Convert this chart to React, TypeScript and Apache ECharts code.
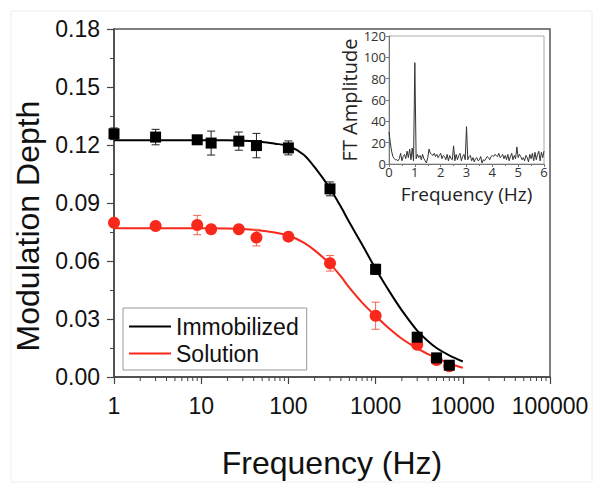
import React, { useEffect, useRef } from "react";
import * as echarts from "echarts";

// ---- main chart data ----
const pointFreq = [1, 3, 9, 13, 27, 43, 100, 300, 1000, 3000, 5000, 7000];
const immobilizedDepth = [0.1258, 0.1241, 0.1227, 0.121, 0.122, 0.1197, 0.1185, 0.0973, 0.0557, 0.0206, 0.0099, 0.0061];
const immobilizedErr = [0.003, 0.004, 0.0015, 0.0062, 0.0047, 0.0063, 0.0036, 0.0036, 0.0026, 0.0015, 0.0018, 0.001];
const solutionDepth = [0.0798, 0.0781, 0.0786, 0.0764, 0.0764, 0.0721, 0.0726, 0.0588, 0.0317, 0.0167, 0.0088, 0.0055];
const solutionErr = [0.002, 0.0015, 0.005, 0.002, 0.001, 0.0043, 0.001, 0.004, 0.007, 0.0015, 0.001, 0.001];

const fitFreq = [1, 10, 20, 30, 50, 70, 100, 150, 200, 300, 400, 500, 700, 1000, 1500, 2000, 3000, 4000, 5000, 7000, 10000];
const immobilizedFit = [0.1225, 0.1225, 0.1224, 0.1222, 0.1216, 0.1207, 0.1195, 0.115, 0.1085, 0.0975, 0.088, 0.08, 0.0685, 0.056, 0.043, 0.0345, 0.024, 0.0185, 0.015, 0.0112, 0.008];
const solutionFit = [0.0769, 0.0769, 0.0768, 0.0765, 0.0757, 0.0747, 0.0732, 0.0695, 0.0655, 0.0585, 0.052, 0.0462, 0.0385, 0.0316, 0.0243, 0.0198, 0.0148, 0.0118, 0.0097, 0.007, 0.0048];

const xTickValues = [1, 10, 100, 1000, 10000, 100000];
const yTickLabels = ["0.00", "0.03", "0.06", "0.09", "0.12", "0.15", "0.18"];

// ---- inset FT spectrum ----
const ftFreqStep = 0.05;
const ftAmplitude = [
  30, 20, 12, 7, 5, 4, 4, 3, 5, 10,
  3, 7, 9, 5, 12, 6, 14, 4, 15, 3,
  95, 5, 9, 6, 8, 4, 9, 5, 3, 1,
  6, 14, 10, 9, 8, 10, 7, 9, 6, 8,
  10, 5, 8, 7, 4, 9, 3, 8, 5, 4,
  17, 3, 9, 4, 8, 10, 3, 7, 9, 4,
  35, 4, 7, 8, 3, 6, 2, 5, 6, 3,
  4, 7, 1, 4, 3, 5, 7, 6, 4, 7,
  8, 7, 9, 8, 7, 10, 6, 7, 9, 5,
  8, 4, 9, 3, 7, 10, 4, 8, 5, 16,
  6, 9, 7, 4, 6, 3, 8, 6, 2, 9,
  5, 10, 3, 11, 4, 9, 12, 3, 11, 6,
  12,
];
const insetXTicks = [0, 1, 2, 3, 4, 5, 6];
const insetYTicks = [0, 20, 40, 60, 80, 100, 120];

const RED = "#f8281a";
const MAIN_FONT = "'Liberation Sans', Arial, sans-serif";
const INSET_FONT = "'Open Sans', 'Liberation Sans', sans-serif";

export default function App() {
  const ref = useRef<HTMLDivElement>(null);

  useEffect(() => {
    if (!ref.current) return;
    const chart = echarts.init(ref.current, null, { renderer: "svg" });

    const minorX: number[][] = [];
    for (let d = 0; d < xTickValues.length - 1; d++) {
      for (let k = 2; k <= 9; k++) minorX.push([xTickValues[d] * k, 0]);
    }

    const errItem = (color: string) => (params: any, api: any) => {
      const x = api.value(0);
      const y = api.value(1);
      const e = api.value(2);
      const top = api.coord([x, y + e]);
      const bot = api.coord([x, y - e]);
      const w = 4;
      const style = { stroke: color, lineWidth: 1 };
      return {
        type: "group",
        children: [
          { type: "line", shape: { x1: top[0], y1: top[1], x2: bot[0], y2: bot[1] }, style },
          { type: "line", shape: { x1: top[0] - w, y1: top[1], x2: top[0] + w, y2: top[1] }, style },
          { type: "line", shape: { x1: bot[0] - w, y1: bot[1], x2: bot[0] + w, y2: bot[1] }, style },
        ],
      };
    };

    const option: any = {
      animation: false,
      backgroundColor: "#ffffff",
      graphic: [
        {
          type: "rect",
          shape: { x: 11, y: 11, width: 581, height: 471 },
          style: { fill: "none", stroke: "#eeeeee", lineWidth: 1 },
          silent: true,
        },
      ],
      grid: [
        { left: 114, top: 29, right: 51, bottom: 103, show: true, borderColor: "#555", borderWidth: 1.5, containLabel: false },
        { left: 389, top: 36, width: 155, height: 128, show: true, backgroundColor: "#fff", borderColor: "#aaa", borderWidth: 1, containLabel: false },
      ],
      legend: {
        orient: "vertical",
        left: 123,
        top: 308,
        itemWidth: 42,
        itemHeight: 2,
        itemGap: 0,
        padding: [5, 8, 3, 6],
        borderColor: "#999",
        borderWidth: 1,
        backgroundColor: "#fff",
        data: [
          { name: "Immobilized", icon: "rect" },
          { name: "Solution", icon: "rect" },
        ],
        textStyle: { fontFamily: MAIN_FONT, fontSize: 23, color: "#111", lineHeight: 27 },
      },
      xAxis: [
        {
          type: "log",
          gridIndex: 0,
          min: 1,
          max: 100000,
          logBase: 10,
          name: "Frequency (Hz)",
          nameLocation: "middle",
          nameGap: 70,
          nameTextStyle: { fontFamily: MAIN_FONT, fontSize: 32, color: "#111" },
          axisLine: { lineStyle: { color: "#444", width: 1.5 } },
          axisTick: { show: true, inside: false, length: 7, lineStyle: { color: "#444", width: 1.2 } },
          minorTick: { show: false },
          splitLine: { show: false },
          axisLabel: {
            fontFamily: MAIN_FONT,
            fontSize: 23,
            color: "#111",
            margin: 17,
            formatter: (v: number) => {
              const r = Math.round(v);
              return xTickValues.indexOf(r) >= 0 ? String(r) : "";
            },
          },
        },
        {
          type: "value",
          gridIndex: 1,
          min: 0,
          max: 6,
          interval: 1,
          name: "Frequency (Hz)",
          nameLocation: "middle",
          nameGap: 20,
          nameTextStyle: { fontFamily: INSET_FONT, fontSize: 19, color: "#222", lineHeight: 19 },
          axisLine: { onZero: false, lineStyle: { color: "#777", width: 1 } },
          axisTick: { show: true, inside: false, length: 3, lineStyle: { color: "#777" } },
          minorTick: { show: true, splitNumber: 2, length: 2, lineStyle: { color: "#777" } },
          splitLine: { show: false },
          axisLabel: {
            fontFamily: INSET_FONT,
            fontSize: 13,
            color: "#333",
            margin: 1,
            lineHeight: 13,
            formatter: (v: number) => (insetXTicks.indexOf(Math.round(v)) >= 0 ? String(Math.round(v)) : ""),
          },
        },
      ],
      yAxis: [
        {
          type: "value",
          gridIndex: 0,
          min: 0,
          max: 0.18,
          interval: 0.03,
          name: "Modulation Depth",
          nameLocation: "middle",
          nameGap: 70,
          nameTextStyle: { fontFamily: MAIN_FONT, fontSize: 32, color: "#111", padding: [0, 46, 0, 0] },
          axisLine: { lineStyle: { color: "#444", width: 1.5 } },
          axisTick: { show: true, inside: false, length: 7, lineStyle: { color: "#444", width: 1.2 } },
          minorTick: { show: true, splitNumber: 2, length: 4, lineStyle: { color: "#444", width: 1 } },
          splitLine: { show: false },
          axisLabel: {
            fontFamily: MAIN_FONT,
            fontSize: 23,
            color: "#111",
            margin: 14,
            formatter: (v: number) => yTickLabels[Math.round(v / 0.03)] ?? "",
          },
        },
        {
          type: "value",
          gridIndex: 1,
          min: 0,
          max: 120,
          interval: 20,
          name: "FT Amplitude",
          nameLocation: "middle",
          nameGap: 27,
          nameTextStyle: { fontFamily: INSET_FONT, fontSize: 20, color: "#222", lineHeight: 20 },
          axisLine: { lineStyle: { color: "#777", width: 1 } },
          axisTick: { show: true, inside: false, length: 3, lineStyle: { color: "#777" } },
          splitLine: { show: false },
          axisLabel: {
            fontFamily: INSET_FONT,
            fontSize: 13,
            color: "#333",
            margin: 3,
            formatter: (v: number) => (insetYTicks.indexOf(Math.round(v)) >= 0 ? String(Math.round(v)) : ""),
          },
        },
      ],
      series: [
        {
          type: "custom",
          name: "minorTicks",
          xAxisIndex: 0,
          yAxisIndex: 0,
          silent: true,
          clip: false,
          data: minorX,
          encode: { x: 0, y: 1 },
          renderItem: (params: any, api: any) => {
            const p = api.coord([api.value(0), 0]);
            return {
              type: "line",
              shape: { x1: p[0], y1: p[1], x2: p[0], y2: p[1] + 4 },
              style: { stroke: "#444", lineWidth: 1 },
            };
          },
        },
        {
          type: "line",
          name: "Solution",
          xAxisIndex: 0,
          yAxisIndex: 0,
          data: fitFreq.map((f, i) => [f, solutionFit[i]]),
          symbol: "none",
          smooth: 0.3,
          lineStyle: { color: RED, width: 2 },
          itemStyle: { color: RED },
          z: 2,
        },
        {
          type: "line",
          name: "Immobilized",
          xAxisIndex: 0,
          yAxisIndex: 0,
          data: fitFreq.map((f, i) => [f, immobilizedFit[i]]),
          symbol: "none",
          smooth: 0.3,
          lineStyle: { color: "#000", width: 2 },
          itemStyle: { color: "#000" },
          z: 2,
        },
        {
          type: "custom",
          name: "solErr",
          xAxisIndex: 0,
          yAxisIndex: 0,
          data: pointFreq.map((f, i) => [f, solutionDepth[i], solutionErr[i]]),
          encode: { x: 0, y: 1 },
          renderItem: errItem("#f56050"),
          z: 3,
        },
        {
          type: "scatter",
          name: "Solution data",
          xAxisIndex: 0,
          yAxisIndex: 0,
          data: pointFreq.map((f, i) => [f, solutionDepth[i]]),
          symbol: "circle",
          symbolSize: 12,
          itemStyle: { color: RED, opacity: 1 },
          z: 4,
        },
        {
          type: "custom",
          name: "immErr",
          xAxisIndex: 0,
          yAxisIndex: 0,
          data: pointFreq.map((f, i) => [f, immobilizedDepth[i], immobilizedErr[i]]),
          encode: { x: 0, y: 1 },
          renderItem: errItem("#222"),
          z: 5,
        },
        {
          type: "scatter",
          name: "Immobilized data",
          xAxisIndex: 0,
          yAxisIndex: 0,
          data: pointFreq.map((f, i) => [f, immobilizedDepth[i]]),
          symbol: "rect",
          symbolSize: 11,
          itemStyle: { color: "#000", opacity: 1 },
          z: 6,
        },
        {
          type: "line",
          name: "FT",
          xAxisIndex: 1,
          yAxisIndex: 1,
          data: ftAmplitude.map((a, i) => [i * ftFreqStep, a]),
          symbol: "none",
          lineStyle: { color: "#333", width: 1 },
          z: 3,
        },
      ],
    };

    chart.setOption(option);
    return () => chart.dispose();
  }, []);

  return (
    <div
      ref={ref}
      style={{ position: "fixed", left: 0, top: 0, width: 601, height: 484, background: "#fff" }}
    />
  );
}
